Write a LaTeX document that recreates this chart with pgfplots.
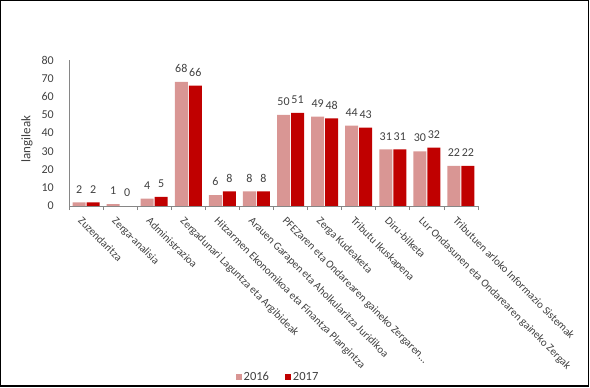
\documentclass[border=0pt]{standalone}
\usepackage{pgfplots}
\pgfplotsset{compat=1.18}
\usepackage{fontspec}
\setmainfont{Carlito}
\definecolor{c16}{RGB}{217,150,148}
\definecolor{c17}{RGB}{192,0,0}
\definecolor{txt}{RGB}{64,64,64}
\definecolor{axc}{RGB}{134,134,134}
\newcommand{\cf}{\fontsize{11bp}{13bp}\selectfont}
\newcommand{\nf}{\fontsize{12bp}{14bp}\selectfont}
\begin{document}
\begin{tikzpicture}
\useasboundingbox (0,0) rectangle (590bp,388bp);
\draw[line width=1.3bp] (0.65bp,2bp) rectangle (588.4bp,387.35bp);
\begin{axis}[
  at={(69bp,182bp)}, anchor=south west,
  scale only axis, width=409bp, height=146bp,
  ymin=0, ymax=80, ytick={0,10,...,80},
  xmin=-0.5, xmax=11.5,
  xtick={0,...,11},
  xticklabels={Zuzendaritza,Zerga-analisia,Administrazioa,Zergadunari Laguntza eta Argibideak,Hitzarmen Ekonomikoa eta Finantza Plangintza,Arauen Garapen eta Aholkularitza Juridikoa,PFEZaren eta Ondarearen gaineko Zergaren…,Zerga Kudeaketa,Tributu Ikuskapena,Diru-bilketa,Lur Ondasunen eta Ondarearen gaineko Zergak,Tributuen arloko Informazio Sistemak},
  minor xtick={-0.5,0.5,...,11.5},
  ybar=1bp, bar width=13bp,
  axis x line*=bottom, axis y line*=left,
  axis line style={draw=axc, line width=0.75bp},
  major tick length=0pt, minor tick length=4bp,
  tick align=outside,
  minor tick style={draw=axc, line width=0.75bp},
  major tick style={draw=none},
  /pgf/number format/assume math mode=true,
  tick label style={text=txt},
  yticklabel style={font=\nf, inner sep=0pt, anchor=east, xshift=-15bp},
  xticklabel style={font=\cf, inner sep=0pt, xshift=-3bp, yshift=-10bp, rotate=-45, anchor=north west},
  ylabel={langileak},
  ylabel style={at={(axis description cs:-0.1027,0.459)}, anchor=center, font=\fontsize{13bp}{15bp}\selectfont, text=txt},
  nodes near coords,
  every node near coord/.append style={font=\nf, text=txt, inner sep=0pt, yshift=9bp, anchor=south},
  legend style={at={(0.511,-1.171)}, anchor=center, draw=none, fill=none, legend columns=2, font=\fontsize{12.5bp}{15bp}\selectfont, text=txt,
    /tikz/every even column/.append style={column sep=14bp}},
]
\addplot[fill=c16, draw=none, legend image code/.code={\fill[c16] (0bp,-3bp) rectangle (6bp,3bp);}]
  coordinates {(0,2) (1,1) (2,4) (3,68) (4,6) (5,8) (6,50) (7,49) (8,44) (9,31) (10,30) (11,22)};
\addplot[fill=c17, draw=none, legend image code/.code={\fill[c17] (0bp,-3bp) rectangle (6bp,3bp);}]
  coordinates {(0,2) (1,0) (2,5) (3,66) (4,8) (5,8) (6,51) (7,48) (8,43) (9,31) (10,32) (11,22)};
\legend{2016,2017}
\end{axis}
\end{tikzpicture}
\end{document}
